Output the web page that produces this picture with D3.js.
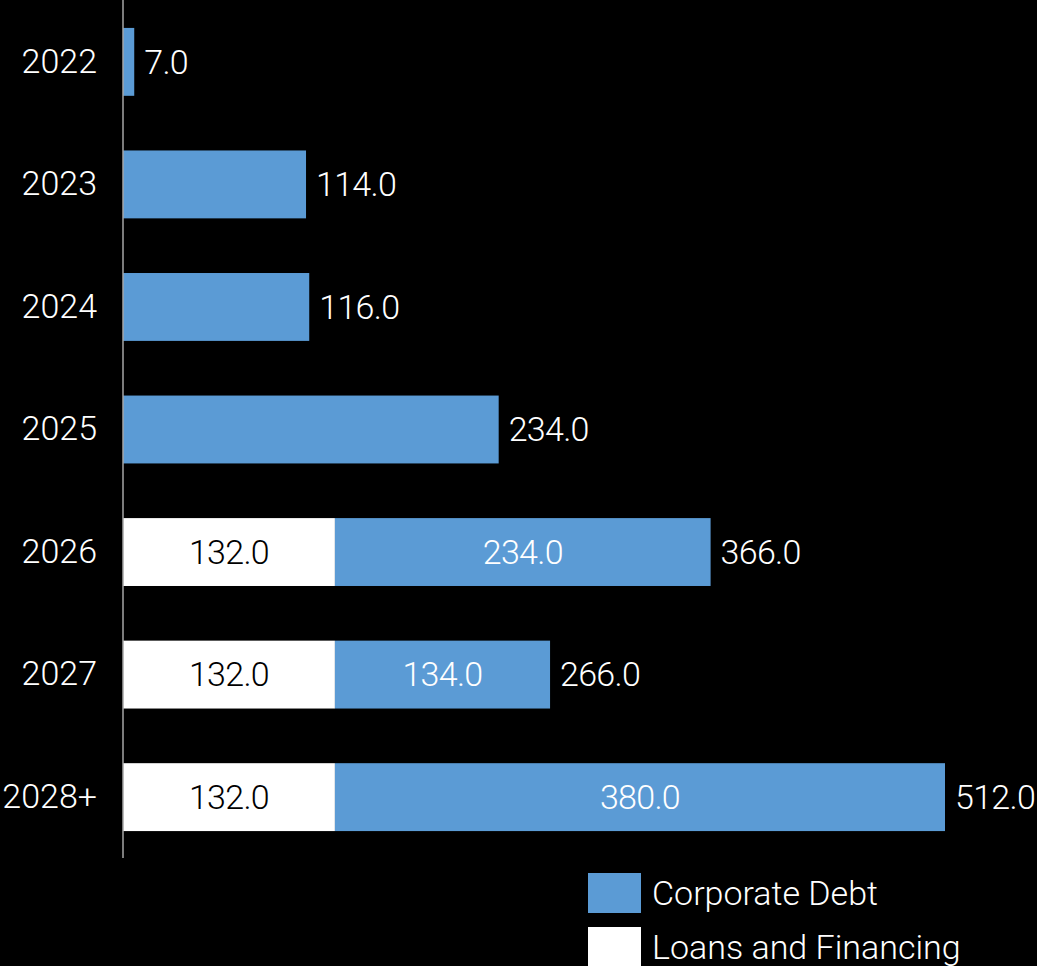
<!DOCTYPE html>
<html>
<head>
<meta charset="utf-8">
<script src="https://cdn.jsdelivr.net/npm/d3@7"></script>
<style>
  html, body { margin: 0; padding: 0; background: #000; overflow: hidden; }
  svg { display: block; }
  text { font-family: Roboto, "Open Sans", sans-serif; font-weight: 300; }
</style>
</head>
<body>
<svg id="chart" width="1037" height="966"></svg>
<script>
// Debt maturity schedule by year
const years = ["2022", "2023", "2024", "2025", "2026", "2027", "2028+"];
const loansAndFinancing = [0, 0, 0, 0, 132, 132, 132];
const corporateDebt = [7, 114, 116, 234, 234, 134, 380];
const seriesNames = ["Loans and Financing", "Corporate Debt"];
const seriesColors = ["#ffffff", "#5b9bd5"];
const seriesTextColors = ["#000000", "#ffffff"];

const svg = d3.select("#chart");

const rows = years.map((y, i) => ({
  year: y,
  "Loans and Financing": loansAndFinancing[i],
  "Corporate Debt": corporateDebt[i]
}));
rows.forEach(r => r.total = r["Loans and Financing"] + r["Corporate Debt"]);

const stack = d3.stack().keys(seriesNames);
const layers = stack(rows);

const x = d3.scaleLinear().domain([0, 512]).range([123, 945]);
const y = d3.scaleBand().domain(years).range([0.6, 858.4])
  .paddingInner(0.446).paddingOuter(0.223);

const fmt = d3.format(".1f");
const numSpacing = -0.7;

// stacked bar segments
const g = svg.append("g");
layers.forEach((layer, li) => {
  g.selectAll(null)
    .data(layer.filter(d => d[1] - d[0] > 0))
    .join("rect")
    .attr("x", d => x(d[0]))
    .attr("y", d => y(d.data.year))
    .attr("width", d => x(d[1]) - x(d[0]))
    .attr("height", y.bandwidth())
    .attr("fill", seriesColors[li]);
});

// values inside segments for the stacked years
layers.forEach((layer, li) => {
  g.selectAll(null)
    .data(layer.filter(d => d[1] - d[0] > 0 && d.data["Loans and Financing"] > 0))
    .join("text")
    .attr("x", d => (x(d[0]) + x(d[1])) / 2)
    .attr("y", d => y(d.data.year) + y.bandwidth() / 2)
    .attr("dy", "0.35em")
    .attr("text-anchor", "middle")
    .attr("font-size", 34)
    .attr("letter-spacing", numSpacing)
    .attr("fill", seriesTextColors[li])
    .text(d => fmt(d[1] - d[0]));
});

// totals at bar ends
g.selectAll(null)
  .data(rows)
  .join("text")
  .attr("x", d => x(d.total) + 10)
  .attr("y", d => y(d.year) + y.bandwidth() / 2)
  .attr("dy", "0.35em")
  .attr("font-size", 34)
  .attr("letter-spacing", numSpacing)
  .attr("fill", "#ffffff")
  .text(d => fmt(d.total));

// category axis
const axis = svg.append("g")
  .attr("transform", `translate(${x(0)},0)`)
  .call(d3.axisLeft(y).tickSize(0).tickPadding(26));
axis.select(".domain").attr("stroke", "#a6a6a6").attr("stroke-width", 1.5)
  .attr("d", "M0,0V858");
axis.selectAll("text")
  .attr("font-size", 34)
  .attr("fill", "#ffffff")
  .attr("font-family", "Roboto, 'Open Sans', sans-serif")
  .attr("font-weight", 300);

// legend
const legendOrder = ["Corporate Debt", "Loans and Financing"];
const legend = svg.append("g").attr("transform", "translate(588,873)");
legendOrder.forEach((name, i) => {
  const li = seriesNames.indexOf(name);
  const row = legend.append("g").attr("transform", `translate(0,${i * 54})`);
  row.append("rect").attr("width", 53).attr("height", 40).attr("fill", seriesColors[li]);
  row.append("text")
    .attr("x", 64).attr("y", 20).attr("dy", "0.35em")
    .attr("font-size", 34).attr("fill", "#ffffff")
    .text(name);
});
</script>
</body>
</html>
